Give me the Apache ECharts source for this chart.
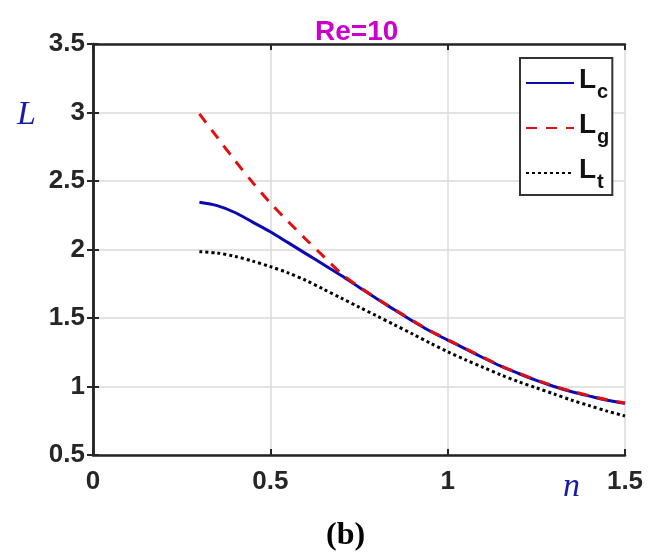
<!DOCTYPE html>
<html>
<head>
<meta charset="utf-8">
<script src="https://cdn.jsdelivr.net/npm/echarts@6/dist/echarts.min.js"></script>
<style>
  html, body { margin: 0; padding: 0; background: #fff; }
  #chart { width: 664px; height: 556px; }
</style>
</head>
<body>
<div id="chart"></div>
<script>
!(function (window) {
    const { echarts } = window;

    // values
    const nValues = [0.3, 0.35, 0.4, 0.45, 0.5, 0.55, 0.6, 0.65, 0.7, 0.75, 0.8, 0.85, 0.9, 0.95,
        1.0, 1.05, 1.1, 1.15, 1.2, 1.25, 1.3, 1.35, 1.4, 1.45, 1.5];
    const lcValues = [2.345, 2.32, 2.27, 2.2, 2.13, 2.05, 1.97, 1.89, 1.81, 1.725, 1.64, 1.56, 1.48, 1.405,
        1.339, 1.275, 1.21, 1.148, 1.095, 1.045, 1.0, 0.962, 0.93, 0.9, 0.877];
    const lgValues = [2.99, 2.82, 2.65, 2.49, 2.34, 2.205, 2.075, 1.95, 1.825, 1.728, 1.643, 1.563, 1.483, 1.408,
        1.342, 1.278, 1.213, 1.151, 1.098, 1.048, 1.003, 0.965, 0.933, 0.903, 0.88];
    const ltValues = [1.984, 1.975, 1.95, 1.915, 1.875, 1.83, 1.775, 1.71, 1.645, 1.58, 1.515, 1.45, 1.385, 1.318,
        1.254, 1.195, 1.14, 1.085, 1.035, 0.99, 0.945, 0.9, 0.86, 0.82, 0.785];
    const seriesNames = ['Lc', 'Lg', 'Lt'];

    const toPairs = ys => nValues.map((x, i) => [x, ys[i]]);

    const axisDark = '#262626';
    const labelFont = {
        fontFamily: 'Liberation Sans',
        fontWeight: 'bold',
        fontSize: 26,
        color: axisDark,
    };

    const frameAxis = (extra) => Object.assign({
        type: 'value',
        axisLine: { show: true, lineStyle: { color: axisDark, width: 2.5 } },
        axisTick: { show: true, inside: true, length: 6, lineStyle: { color: axisDark, width: 2 } },
        splitLine: { show: false },
        axisLabel: { show: false },
    }, extra);

    const chart = echarts.init(document.getElementById('chart'));
    const option = {
        backgroundColor: '#fff',
        animation: false,
        title: {
            text: 'Re=10',
            left: 310,
            top: 13,
            textStyle: {
                fontFamily: 'Liberation Sans',
                fontWeight: 'bold',
                fontSize: 28,
                color: '#cc00cc',
            },
        },
        grid: { left: 93, right: 39, top: 44, bottom: 101 },
        legend: {
            orient: 'vertical',
            left: 520,
            top: 58,
            padding: [6, 3, 3, 5],
            itemGap: 7,
            itemWidth: 48,
            itemHeight: 14,
            borderColor: '#333',
            borderWidth: 2,
            backgroundColor: '#fff',
            itemStyle: { opacity: 0 },
            data: seriesNames,
            formatter: name => `{m|L}{s|${name.slice(1)}}`,
            textStyle: {
                rich: {
                    m: { fontFamily: 'Liberation Sans', fontWeight: 'bold', fontSize: 28, color: '#111', lineHeight: 32, padding: [0, 0, 6, 0] },
                    s: { fontFamily: 'Liberation Sans', fontWeight: 'bold', fontSize: 20, color: '#111', lineHeight: 20, padding: [18, 0, 0, 1] },
                },
            },
        },
        xAxis: [
            frameAxis({
                min: 0, max: 1.5, interval: 0.5,
                position: 'bottom',
                splitLine: { show: true, lineStyle: { color: '#dadada', width: 1.5 } },
                axisLabel: Object.assign({ show: true, margin: 14 }, labelFont),
            }),
            frameAxis({ min: 0, max: 1.5, interval: 0.5, position: 'top' }),
        ],
        yAxis: [
            frameAxis({
                min: 0.5, max: 3.5, interval: 0.5,
                position: 'left',
                splitLine: { show: true, lineStyle: { color: '#dadada', width: 1.5 } },
                axisLabel: Object.assign({ show: true, margin: 8 }, labelFont),
            }),
            frameAxis({ min: 0.5, max: 3.5, interval: 0.5, position: 'right' }),
        ],
        graphic: [
            {
                type: 'text', left: 17, top: 98,
                style: { text: 'L', font: 'italic 34px "Liberation Serif"', fill: '#1a1aa8' },
            },
            {
                type: 'text', left: 563, top: 470,
                style: { text: 'n', font: 'italic 34px "Liberation Serif"', fill: '#1a1aa8' },
            },
            {
                type: 'text', left: 326, top: 520,
                style: { text: '(b)', font: 'bold 32px "Liberation Serif"', fill: '#000' },
            },
        ],
        series: [
            {
                name: 'Lc', type: 'line', smooth: 0.3, symbol: 'none', z: 3,
                data: toPairs(lcValues),
                lineStyle: { color: '#0a0ab0', width: 3, type: 'solid' },
                itemStyle: { color: '#0a0ab0' },
            },
            {
                name: 'Lg', type: 'line', smooth: 0.3, symbol: 'none', z: 4,
                data: toPairs(lgValues),
                lineStyle: { color: '#e01010', width: 3, type: [11, 9] },
                itemStyle: { color: '#e01010' },
            },
            {
                name: 'Lt', type: 'line', smooth: 0.3, symbol: 'none', z: 2,
                data: toPairs(ltValues),
                lineStyle: { color: '#000', width: 3, type: [3, 3] },
                itemStyle: { color: '#000' },
            },
        ],
    };
    chart.setOption(option);
}(window));
</script>
</body>
</html>
